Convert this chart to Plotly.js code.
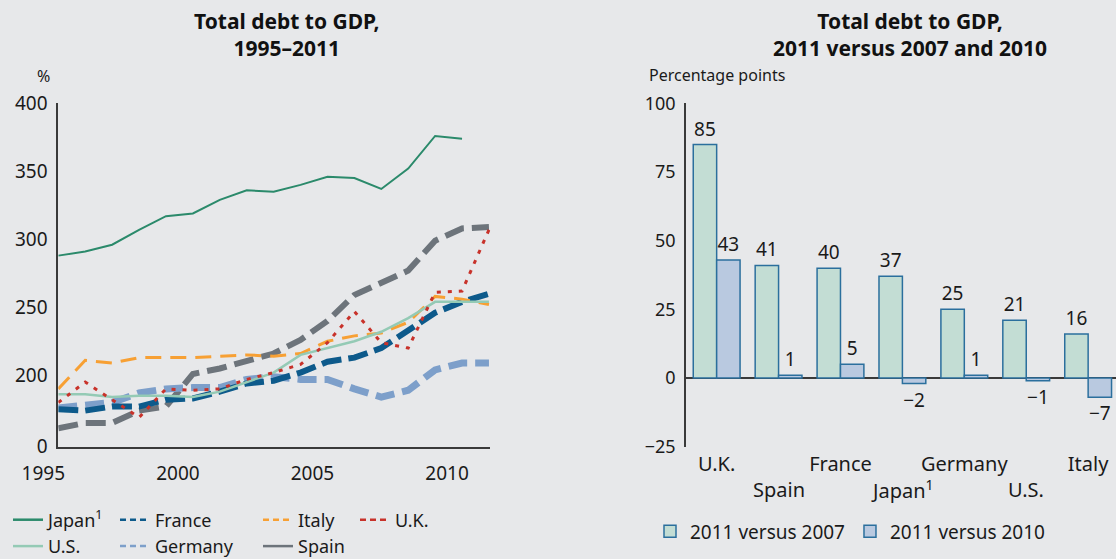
<!DOCTYPE html>
<html>
<head>
<meta charset="utf-8">
<script src="https://cdn.plot.ly/plotly-3.0.1.min.js"></script>
<style>
html,body{margin:0;padding:0;background:#e7e8ea;}
#chart{width:1116px;height:559px;}
</style>
</head>
<body>
<div id="chart"></div>
<script>
// ---------- Left chart data: total debt to GDP, % ----------
const years   = [1995,1996,1997,1998,1999,2000,2001,2002,2003,2004,2005,2006,2007,2008,2009,2010,2011];
const japan   = [288,291,296,307,317,319,329,336,335,340,346,345,337,352,376,374,null];
const us      = [186,186,184,185,185,184,188,195,202,215,220,225,232,242,254,254,254];
const france  = [175,174,177,177,182,183,188,194,196,202,210,213,220,233,246,254,260];
const germany = [176,178,180,187,190,191,191,197,199,197,197,190,184,189,204,209,209];
const italy   = [190,211,209,213,213,213,214,215,214,216,225,229,231,239,258,256,252];
const uk      = [180,195,182,169,190,189,190,197,202,208,224,247,224,220,261,262,307];
const spain   = [161,165,165,174,177,201,205,211,216,226,240,259,268,277,299,308,309];
const leftYTickVals = [148,200,250,300,350,400];
const leftYTickText = ['0','200','250','300','350','400'];
const leftXTickVals = [1995,2000,2005,2010];
const leftXTickText = ['1995','2000','2005','2010'];

// ---------- Right chart data: percentage points ----------
const countries = ['U.K.','Spain','France','Japan','Germany','U.S.','Italy'];
const vs2007 = [85,41,40,37,25,21,16];
const vs2010 = [43,1,5,-2,1,-1,-7];
const rightYTickVals = [-25,0,25,50,75,100];
// staggered category labels: first row (axis ticks) and second row
const row1Cats = ['U.K.','France','Germany','Italy'];
const row1Text = ['U.K.','France','Germany','Italy'];
const row2Cats = ['Spain','Japan','U.S.'];
const row2Text = ['Spain','Japan<sup>1</sup>','U.S.'];

const FONT = 'Noto Sans, Open Sans, sans-serif';
const TXT = '#1a1a1a';
const W = 1116, H = 559;
const px = v => v / W;
const py = v => (H - v) / H;

function fmt(v){ return v < 0 ? '\u2212' + Math.abs(v) : String(v); }

const lineSeries = [
  {name:'Spain',   y:spain,   color:'#6d747b', width:6,   dash:'20px,8px'},
  {name:'Germany', y:germany, color:'#7d9fca', width:7,   dash:'19px,8px'},
  {name:'France',  y:france,  color:'#0d5a8b', width:6,   dash:'20px,7px'},
  {name:'Italy',   y:italy,   color:'#f7a034', width:3,   dash:'16px,9px'},
  {name:'U.S.',    y:us,      color:'#94cab5', width:2.5, dash:'solid'},
  {name:'Japan',   y:japan,   color:'#2b8a6b', width:2,   dash:'solid'},
  {name:'U.K.',    y:uk,      color:'#c8322a', width:3,   dash:'4px,7px'}
];

const traces = lineSeries.map(s => ({
  type:'scatter', mode:'lines', x:years, y:s.y, name:s.name,
  xaxis:'x', yaxis:'y', showlegend:false, connectgaps:false,
  line:{color:s.color, width:s.width, dash:s.dash}, hoverinfo:'skip'
}));

// legend-only entries (thin symbols, 4 columns)
const legendEntries = [
  {name:'Japan<sup>1</sup>', color:'#2b8a6b', dash:'solid',   legend:'legend'},
  {name:'U.S.',              color:'#94cab5', dash:'solid',   legend:'legend'},
  {name:'France',            color:'#0d5a8b', dash:'6px,4px', legend:'legend2'},
  {name:'Germany',           color:'#7d9fca', dash:'6px,4px', legend:'legend2'},
  {name:'Italy',             color:'#f7a034', dash:'6px,4px', legend:'legend3'},
  {name:'Spain',             color:'#6d747b', dash:'solid',   legend:'legend3'},
  {name:'U.K.',              color:'#c8322a', dash:'6px,4px', legend:'legend4'}
];
legendEntries.forEach((e,i) => traces.push({
  type:'scatter', mode:'lines', x:[null], y:[null], name:e.name,
  xaxis:'x', yaxis:'y', legend:e.legend, legendgroup:'g'+i, showlegend:true,
  line:{color:e.color, width:2.5, dash:e.dash}, hoverinfo:'skip'
}));

traces.push({
  type:'bar', x:countries, y:vs2007, name:'2011 versus 2007',
  xaxis:'x2', yaxis:'y2', legend:'legend5',
  marker:{color:'#c3ddd4', line:{color:'#2b6f9d', width:1.5}},
  text:vs2007.map(fmt), textposition:'outside', cliponaxis:false,
  textfont:{family:FONT, size:19, color:TXT}, hoverinfo:'skip'
});
traces.push({
  type:'bar', x:countries, y:vs2010, name:'2011 versus 2010',
  xaxis:'x2', yaxis:'y2', legend:'legend5',
  marker:{color:'#b9c9e0', line:{color:'#2b6f9d', width:1.5}},
  text:vs2010.map(fmt), textposition:'outside', cliponaxis:false,
  textfont:{family:FONT, size:19, color:TXT}, hoverinfo:'skip'
});

const yDom = [py(446.7), py(103.3)];
const legendBase = {
  orientation:'v', xanchor:'left', yanchor:'top', bgcolor:'rgba(0,0,0,0)',
  font:{family:FONT, size:18, color:TXT}, tracegroupgap:0, borderwidth:0
};
const legTop = py(501.5);

const titleFont = {family:FONT, size:21, color:'#111'};

const annotations = [
  {text:'<b>Total debt to GDP,<br>1995\u20132011</b>', xref:'paper', yref:'paper', x:px(286.7), y:py(35),
   xanchor:'center', yanchor:'middle', showarrow:false, font:titleFont},
  {text:'<b>Total debt to GDP,<br>2011 versus 2007 and 2010</b>', xref:'paper', yref:'paper', x:px(910), y:py(35),
   xanchor:'center', yanchor:'middle', showarrow:false, font:titleFont},
  {text:'%', xref:'paper', yref:'paper', x:px(43.3), y:py(75.7),
   xanchor:'center', yanchor:'middle', showarrow:false, font:{family:FONT, size:16, color:TXT}},
  {text:'Percentage points', xref:'paper', yref:'paper', x:px(646.7), y:py(75),
   xanchor:'left', yanchor:'middle', showarrow:false, font:{family:FONT, size:16, color:TXT}}
];
row2Cats.forEach((c,i) => annotations.push({
  text:row2Text[i], xref:'x2', yref:'paper', x:c, y:py(489),
  xanchor:'center', yanchor:'middle', showarrow:false, font:{family:FONT, size:20, color:TXT}
}));

const layout = {
  width:W, height:H,
  margin:{l:0, r:0, t:0, b:0, autoexpand:false},
  paper_bgcolor:'#e7e8ea', plot_bgcolor:'#e7e8ea',
  font:{family:FONT, color:TXT},
  showlegend:true,
  barmode:'group', bargap:0.244, bargroupgap:0,
  xaxis:{
    domain:[px(58.3), px(490.3)], range:[1995, 2011.05], anchor:'y', automargin:false,
    showline:true, linecolor:'#3a3a3a', linewidth:2, showgrid:false, zeroline:false,
    tickvals:leftXTickVals, ticktext:leftXTickText, ticks:'', ticklabelshift:-15,
    ticklabelstandoff:8, tickangle:0,
    tickfont:{family:FONT, size:19, color:TXT}
  },
  yaxis:{
    domain:yDom, range:[147.5, 400], anchor:'x', automargin:false,
    showline:true, linecolor:'#3a3a3a', linewidth:2, showgrid:false, zeroline:false,
    tickvals:leftYTickVals, ticktext:leftYTickText, ticks:'', ticklabelstandoff:5,
    tickfont:{family:FONT, size:19, color:TXT}
  },
  xaxis2:{
    domain:[px(685.7), 1], range:[-0.5, 6.45], anchor:'y2', type:'category', automargin:false,
    showline:false, showgrid:false, zeroline:false, tickangle:0,
    tickvals:row1Cats, ticktext:row1Text, ticks:'', ticklabelstandoff:3,
    tickfont:{family:FONT, size:20, color:TXT}
  },
  yaxis2:{
    domain:yDom, range:[-25, 100], anchor:'x2', automargin:false,
    showline:true, linecolor:'#3a3a3a', linewidth:1.5, showgrid:false,
    zeroline:true, zerolinecolor:'#3a3a3a', zerolinewidth:1.5,
    tickvals:rightYTickVals, ticks:'', ticklabelstandoff:5,
    tickfont:{family:FONT, size:18, color:TXT}
  },
  legend: Object.assign({}, legendBase, {x:px(8),   y:legTop}),
  legend2:Object.assign({}, legendBase, {x:px(115), y:legTop}),
  legend3:Object.assign({}, legendBase, {x:px(258), y:legTop}),
  legend4:Object.assign({}, legendBase, {x:px(355), y:legTop}),
  legend5:Object.assign({}, legendBase, {orientation:'h', font:{family:FONT, size:19, color:TXT}, x:px(650), y:py(512.5)}),
  annotations:annotations
};

Plotly.newPlot('chart', traces, layout, {staticPlot:true, displayModeBar:false});
</script>
</body>
</html>
